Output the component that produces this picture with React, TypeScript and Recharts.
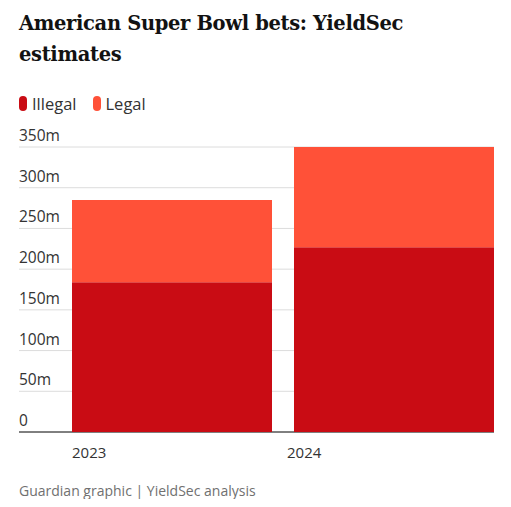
import { Bar, BarChart, CartesianGrid, XAxis, YAxis } from "recharts";

const years = ["2023", "2024"];
const illegalBets = [184, 227];
const legalBets = [101, 123];
const yTicks = [0, 50, 100, 150, 200, 250, 300, 350];

const ILLEGAL_COLOR = "#c90c14";
const LEGAL_COLOR = "#ff5138";
const SANS = "'Open Sans', sans-serif";

const data = years.map((year, i) => ({
  year,
  illegal: illegalBets[i],
  legal: legalBets[i],
}));

function formatMillions(value: number) {
  return value === 0 ? "0" : `${value}m`;
}

function YTick({ y, payload }: any) {
  return (
    <text x={11} y={y - 6} textAnchor="start" fontSize={15.5} fill="#333" fontFamily={SANS}>
      {formatMillions(payload.value)}
    </text>
  );
}

function XTick({ x, y, payload, index }: any) {
  // labels sit near the left edge of each bar
  const shift = index === 0 ? -100 : -107;
  return (
    <text x={x + shift} y={y + 26} textAnchor="start" fontSize={15} fill="#333" fontFamily={SANS}>
      {payload.value}
    </text>
  );
}

function LegendItem({ color, label }: { color: string; label: string }) {
  return (
    <span style={{ display: "inline-flex", alignItems: "center", marginRight: 16 }}>
      <span
        style={{
          display: "inline-block",
          width: 8,
          height: 15,
          borderRadius: 4,
          background: color,
          marginRight: 5,
        }}
      />
      <span style={{ fontSize: 16.5, color: "#333", fontFamily: SANS }}>{label}</span>
    </span>
  );
}

export default function App() {
  return (
    <div style={{ position: "relative", width: 495, height: 491 }}>
      <div
        style={{
          position: "absolute",
          left: 11,
          top: 0,
          fontFamily: "'DejaVu Serif', serif",
          fontWeight: 700,
          fontSize: 19.5,
          lineHeight: "31px",
          color: "#121212",
          letterSpacing: -0.35,
        }}
      >
        American Super Bowl bets: YieldSec
        <br />
        estimates
      </div>
      <div style={{ position: "absolute", left: 11, top: 84, display: "flex" }}>
        <LegendItem color={ILLEGAL_COLOR} label="Illegal" />
        <LegendItem color={LEGAL_COLOR} label="Legal" />
      </div>
      <div style={{ position: "absolute", left: 0, top: 0 }}>
        <BarChart
          width={495}
          height={491}
          data={data}
          margin={{ top: 139, right: 9, left: 10, bottom: 37 }}
        >
          <CartesianGrid vertical={false} stroke="#dcdcdc" />
          <CartesianGrid
            vertical={false}
            stroke="#121212"
            horizontalCoordinatesGenerator={({ offset }: any) => [offset.top + offset.height]}
          />
          <XAxis
            dataKey="year"
            axisLine={false}
            tickLine={false}
            tickSize={0}
            tickMargin={0}
            height={30}
            padding={{ left: 42, right: -11 }}
            tick={<XTick />}
          />
          <YAxis
            domain={[0, 350]}
            ticks={yTicks}
            width={1}
            interval={0}
            axisLine={false}
            tickLine={false}
            tick={<YTick />}
          />
          <Bar dataKey="illegal" stackId="a" fill={ILLEGAL_COLOR} barSize={200} isAnimationActive={false} />
          <Bar dataKey="legal" stackId="a" fill={LEGAL_COLOR} barSize={200} isAnimationActive={false} />
        </BarChart>
      </div>
      <div
        style={{
          position: "absolute",
          left: 11,
          top: 473,
          fontSize: 14,
          color: "#707070",
          fontFamily: SANS,
        }}
      >
        Guardian graphic | YieldSec analysis
      </div>
    </div>
  );
}
